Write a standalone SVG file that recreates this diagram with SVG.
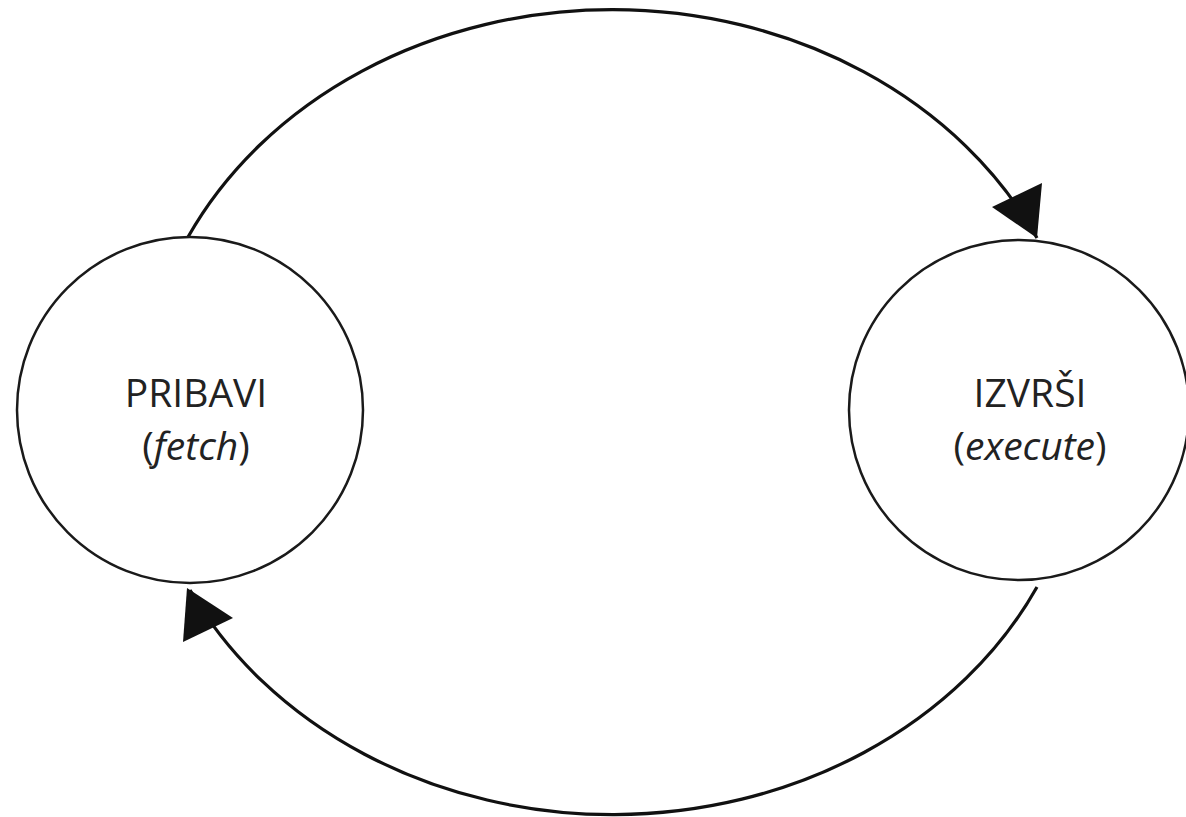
<svg xmlns="http://www.w3.org/2000/svg" width="1186" height="817" viewBox="0 0 1186 817">
<style>
.node{fill:#fff;stroke:#1a1a1a;stroke-width:2.5}
.lbl{font-family:"Open Sans","Noto Sans",sans-serif;font-size:39px;fill:#222;text-anchor:middle}
.it{font-style:italic}
.conn{fill:none;stroke:#111;stroke-width:3.2}
.head{fill:#111;stroke:none}
</style>
<rect width="1186" height="817" fill="#fff"/>
<g id="connectors">
<path class="conn" d="M 188 237 A 471 402 0 0 1 1037 238"/>
<polygon class="head" points="1037,238 1042,183 992,207"/>
<path class="conn" d="M 1037 587 A 471 402 0 0 1 190 590"/>
<polygon class="head" points="187,588 183,642 233,618"/>
</g>
<g id="fetch">
<circle class="node" cx="190" cy="410" r="173"/>
<text class="lbl" x="196" y="407">PRIBAVI</text>
<text class="lbl" x="196" y="460">(<tspan class="it">fetch</tspan>)</text>
</g>
<g id="execute">
<circle class="node" cx="1019" cy="410" r="170"/>
<text class="lbl" x="1030" y="407">IZVRŠI</text>
<text class="lbl" x="1030" y="460">(<tspan class="it">execute</tspan>)</text>
</g>
</svg>
